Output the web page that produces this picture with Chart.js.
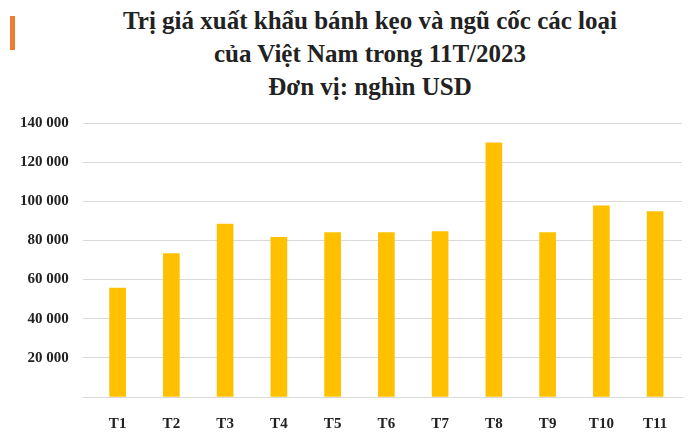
<!DOCTYPE html>
<html><head><meta charset="utf-8">
<script src="https://cdn.jsdelivr.net/npm/chart.js@4/dist/chart.umd.min.js"></script>
<style>
html,body{margin:0;padding:0;background:#fff;width:698px;height:445px;overflow:hidden}
#t{position:absolute;left:60px;width:620px;top:4px;text-align:center;font-family:"Liberation Serif",serif;font-weight:bold;font-size:25px;line-height:33px;color:#222}
#m{position:absolute;left:10px;top:16px;width:5px;height:34px;background:#ED7D31}
#w{position:absolute;left:0;top:100px;width:690px;height:345px}
</style></head><body>
<div id="m"></div>
<div id="t">Trị giá xuất khẩu bánh kẹo và ngũ cốc các loại<br>của Việt Nam trong 11T/2023<br>Đơn vị: nghìn USD</div>
<div id="w"><canvas id="c"></canvas></div>
<script>
const categories=["T1","T2","T3","T4","T5","T6","T7","T8","T9","T10","T11"];
const values=[55700,73300,88400,81600,84000,84000,84500,129900,84000,97700,94800];
const yTicks=[0,20000,40000,60000,80000,100000,120000,140000];
const fmt=v=>v===0?"":String(v).replace(/\B(?=(\d{3})+(?!\d))/g," ");
new Chart(document.getElementById('c'),{type:'bar',
data:{labels:categories,datasets:[{data:values,backgroundColor:'#FFC000',barThickness:16}]},
options:{responsive:true,maintainAspectRatio:false,animation:false,
layout:{padding:{left:6,right:8,top:13,bottom:2}},
plugins:{legend:{display:false},tooltip:{enabled:false}},
scales:{
x:{grid:{display:false},border:{color:'#d9d9d9'},ticks:{color:'#222',font:{family:'Liberation Serif',weight:'bold',size:15},padding:10}},
y:{min:0,max:140000,afterBuildTicks:a=>{a.ticks=yTicks.map(v=>({value:v}))},grid:{color:'#d9d9d9'},border:{display:false},
ticks:{color:'#222',callback:fmt,font:{family:'Liberation Serif',weight:'bold',size:15},padding:14}}}}});
</script></body></html>
